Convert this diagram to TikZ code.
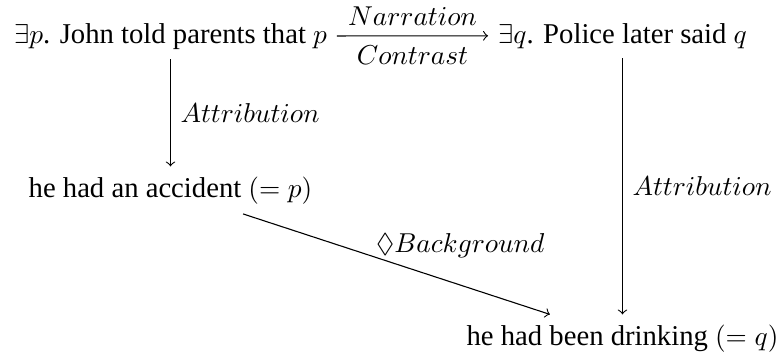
\documentclass[tikz,border=0pt]{standalone}
\usepackage{amssymb}
\usepackage{fontspec}
\setmainfont{Liberation Serif}[Scale=1.05]
\begin{document}
\begin{tikzpicture}[x=0.366pt, y=-0.366pt, >=to,
    every node/.style={inner sep=0.333em},
    rel/.style={->, line width=0.4pt}]
    \useasboundingbox (0,0) rectangle (783,356);

    % The clauses of the discourse
    \node[anchor=base] (told) at (170.5,43) {$\exists p$. John told parents that $p$};
    \node[anchor=base] (said) at (622.5,43) {$\exists q$. Police later said $q$};
    \node[anchor=base] (accident) at (170.5,197) {he had an accident $(= p)$};
    \node[anchor=base] (drinking) at (622.5,345) {he had been drinking $(= q)$};

    % Draw the top relation
    \draw[rel] (told) -- (said)
        node[midway, above] {$Narration$}
        node[midway, below] {$Contrast$};

    % Draw the attribution relations
    \draw[rel] (told) -- (accident) node[midway, right] {$Attribution$};
    \draw[rel] (said) -- (drinking) node[midway, right] {$Attribution$};

    % Draw the background relation
    \draw[rel] (accident) -- (drinking)
        node[pos=0.432, anchor=base west, inner sep=0pt, yshift=1.8pt] {$\Diamond Background$};

\end{tikzpicture}
\end{document}
